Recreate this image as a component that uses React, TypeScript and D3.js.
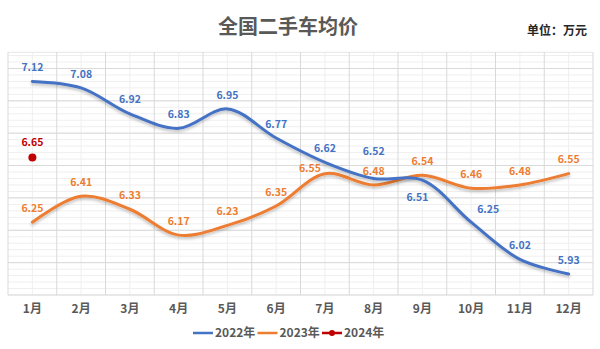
import React from "react";
import * as d3 from "d3";

const months = ["1月", "2月", "3月", "4月", "5月", "6月", "7月", "8月", "9月", "10月", "11月", "12月"];
const values2022 = [7.12, 7.08, 6.92, 6.83, 6.95, 6.77, 6.62, 6.52, 6.51, 6.25, 6.02, 5.93];
const values2023 = [6.25, 6.41, 6.33, 6.17, 6.23, 6.35, 6.55, 6.48, 6.54, 6.46, 6.48, 6.55];
const values2024 = [6.65];
const seriesNames = ["2022年", "2023年", "2024年"];
const title = "全国二手车均价";
const unitLabel = "单位：万元";

const W = 600;
const H = 349;
const FONT = "'Noto Sans CJK SC', 'Noto Sans', sans-serif";
const BLUE = "#4472C4";
const ORANGE = "#ED7D31";
const RED = "#C00000";

// label offsets (dx, dy) relative to the point, layout only
const labelOff2022: Record<number, [number, number]> = {
  7: [0, -27],
  8: [-5, 17],
  9: [17, -13],
};
const labelOff2023: Record<number, [number, number]> = {
  6: [-15, -5],
};

export default function App() {
  const left = 8;
  const right = 593;
  const top = 52.3;
  const bottom = 295;

  const x = d3.scalePoint<string>().domain(months).range([left, right]).padding(0.5);
  const y = d3.scaleLinear().domain([5.8, 7.3]).range([bottom, top]);
  const step = x.step();

  const line = d3
    .line<number>()
    .x((_, i) => x(months[i]) as number)
    .y((d) => y(d))
    .curve(d3.curveCatmullRom.alpha(0.5));

  const minorY = d3.range(0, 38).map((i) => 5.8 + i * 0.04).filter((v) => v <= 7.301);
  const majorY = d3.range(0, 8).map((i) => 5.8 + i * 0.2).filter((v) => v <= 7.301);
  const boundaries = d3.range(0, months.length + 1).map((i) => left + i * step);

  const labelStyle = { fontFamily: FONT, fontSize: 10.5, fontWeight: 700 } as const;

  return (
    <svg
      width={W}
      height={H}
      style={{ position: "absolute", left: 0, top: 0, background: "#fff" }}
    >
      <defs>
        <filter id="sh" x="-10%" y="-10%" width="120%" height="140%">
          <feDropShadow dx="0" dy="2" stdDeviation="1.5" floodColor="#000" floodOpacity="0.25" />
        </filter>
      </defs>
      <rect x={0} y={0} width={W} height={H} fill="#fff" />
      {/* minor horizontal grid */}
      {minorY.map((v, i) => (
        <line key={"mh" + i} x1={left} x2={right} y1={y(v)} y2={y(v)} stroke="#efefef" strokeWidth={1} />
      ))}
      {/* minor vertical grid at category centers */}
      {months.map((m) => (
        <line key={"mv" + m} x1={x(m)} x2={x(m)} y1={top} y2={bottom} stroke="#efefef" strokeWidth={1} />
      ))}
      {/* major horizontal grid */}
      {majorY.map((v, i) => (
        <line key={"Mh" + i} x1={left} x2={right} y1={y(v)} y2={y(v)} stroke="#d9d9d9" strokeWidth={1} />
      ))}
      <line x1={left} x2={right} y1={top} y2={top} stroke="#e6e6e6" strokeWidth={1} />
      {/* major vertical grid at boundaries */}
      {boundaries.map((bx, i) => (
        <line key={"Mv" + i} x1={bx} x2={bx} y1={top} y2={bottom} stroke="#d9d9d9" strokeWidth={1} />
      ))}

      {/* title */}
      <text x={288} y={34} textAnchor="middle" fontFamily={FONT} fontSize={20} fontWeight={700} fill="#595959">
        {title}
      </text>
      <text x={587} y={35} textAnchor="end" fontFamily={FONT} fontSize={12} fontWeight={700} fill="#262626">
        {unitLabel}
      </text>

      {/* series lines */}
      <path d={line(values2023) || ""} fill="none" stroke={ORANGE} strokeWidth={3} strokeLinecap="round" filter="url(#sh)" />
      <path d={line(values2022) || ""} fill="none" stroke={BLUE} strokeWidth={3} strokeLinecap="round" filter="url(#sh)" />
      {values2024.map((v, i) => (
        <circle key={"p24" + i} cx={x(months[i])} cy={y(v)} r={4} fill={RED} />
      ))}

      {/* data labels */}
      {values2022.map((v, i) => {
        const [dx, dy] = labelOff2022[i] || [0, -14];
        return (
          <text key={"l22" + i} x={(x(months[i]) as number) + dx} y={y(v) + dy} dy="0.35em" textAnchor="middle" fill={BLUE} {...labelStyle}>
            {v.toFixed(2)}
          </text>
        );
      })}
      {values2023.map((v, i) => {
        const [dx, dy] = labelOff2023[i] || [0, -14];
        return (
          <text key={"l23" + i} x={(x(months[i]) as number) + dx} y={y(v) + dy} dy="0.35em" textAnchor="middle" fill={ORANGE} {...labelStyle}>
            {v.toFixed(2)}
          </text>
        );
      })}
      {values2024.map((v, i) => (
        <text key={"l24" + i} x={x(months[i])} y={y(v) - 15} dy="0.35em" textAnchor="middle" fill={RED} {...labelStyle}>
          {v.toFixed(2)}
        </text>
      ))}

      {/* x axis labels */}
      {months.map((m) => (
        <text key={"xl" + m} x={x(m)} y={309} dy="0.35em" textAnchor="middle" fontFamily={FONT} fontSize={12} fontWeight={700} fill="#595959">
          {m}
        </text>
      ))}

      {/* legend */}
      {seriesNames.map((name, i) => {
        const lx = 193 + i * 64.5;
        const color = [BLUE, ORANGE, RED][i];
        return (
          <g key={"lg" + i}>
            <line x1={lx} x2={lx + 20} y1={333} y2={333} stroke={color} strokeWidth={2.5} />
            {i === 2 && <circle cx={lx + 10} cy={333} r={3} fill={color} />}
            <text x={lx + 22} y={333} dy="0.35em" fontFamily={FONT} fontSize={12} fontWeight={700} fill="#595959">
              {name}
            </text>
          </g>
        );
      })}
    </svg>
  );
}
